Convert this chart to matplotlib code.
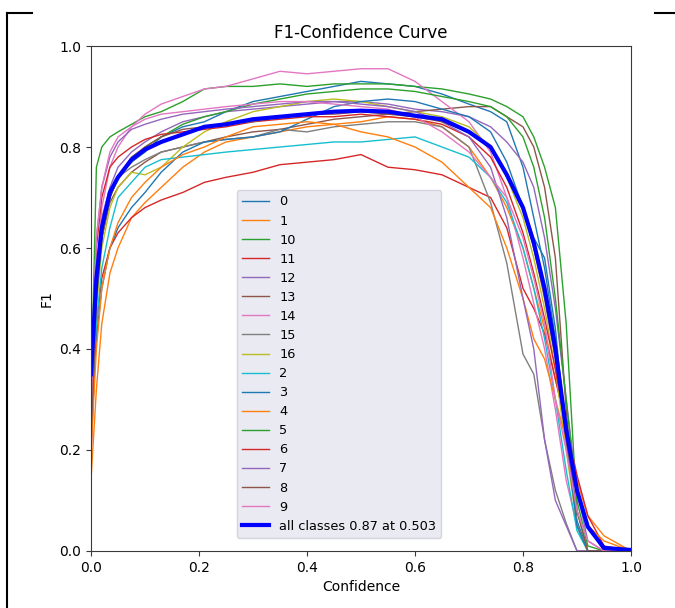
import matplotlib
matplotlib.use("Agg")
import matplotlib.pyplot as plt
from matplotlib.lines import Line2D

# confidence grid shared by all curves
conf = [0.0, 0.01, 0.02, 0.035, 0.05, 0.075, 0.1, 0.13, 0.17, 0.21, 0.25, 0.3, 0.35, 0.4, 0.45, 0.5,
        0.55, 0.6, 0.65, 0.7, 0.74, 0.77, 0.8, 0.82, 0.84, 0.86, 0.88, 0.9, 0.92, 0.95, 1.0]

names = ["0", "1", "10", "11", "12", "13", "14", "15", "16", "2", "3", "4", "5", "6", "7", "8", "9"]

f1_0 = [0.30, 0.52, 0.63, 0.70, 0.74, 0.77, 0.79, 0.82, 0.84, 0.85, 0.87, 0.89, 0.90, 0.91, 0.92, 0.93,
        0.925, 0.92, 0.905, 0.885, 0.87, 0.85, 0.76, 0.66, 0.56, 0.42, 0.25, 0.06, 0.0, 0.0, 0.0]
f1_1 = [0.14, 0.32, 0.45, 0.55, 0.60, 0.66, 0.69, 0.72, 0.76, 0.79, 0.81, 0.82, 0.83, 0.84, 0.845, 0.85,
        0.86, 0.855, 0.84, 0.80, 0.74, 0.68, 0.60, 0.52, 0.44, 0.34, 0.25, 0.14, 0.07, 0.03, 0.0]
f1_10 = [0.30, 0.76, 0.80, 0.82, 0.83, 0.845, 0.86, 0.87, 0.89, 0.915, 0.92, 0.92, 0.925, 0.92, 0.925, 0.925,
         0.925, 0.92, 0.915, 0.905, 0.895, 0.88, 0.86, 0.82, 0.76, 0.68, 0.45, 0.08, 0.0, 0.0, 0.0]
f1_11 = [0.19, 0.45, 0.54, 0.60, 0.63, 0.66, 0.68, 0.695, 0.71, 0.73, 0.74, 0.75, 0.765, 0.77, 0.775, 0.785,
         0.76, 0.755, 0.745, 0.72, 0.70, 0.64, 0.52, 0.48, 0.43, 0.34, 0.25, 0.15, 0.07, 0.01, 0.0]
f1_12 = [0.28, 0.55, 0.66, 0.72, 0.76, 0.79, 0.81, 0.83, 0.85, 0.86, 0.87, 0.875, 0.88, 0.885, 0.89, 0.89,
         0.885, 0.875, 0.87, 0.86, 0.84, 0.81, 0.77, 0.72, 0.62, 0.48, 0.30, 0.12, 0.02, 0.0, 0.0]
f1_13 = [0.25, 0.50, 0.62, 0.69, 0.72, 0.75, 0.77, 0.79, 0.80, 0.81, 0.82, 0.83, 0.835, 0.845, 0.855, 0.86,
         0.865, 0.87, 0.875, 0.88, 0.88, 0.86, 0.84, 0.80, 0.72, 0.58, 0.28, 0.05, 0.0, 0.0, 0.0]
f1_14 = [0.22, 0.55, 0.68, 0.76, 0.80, 0.84, 0.865, 0.885, 0.90, 0.915, 0.92, 0.935, 0.95, 0.945, 0.95, 0.955,
         0.955, 0.93, 0.89, 0.85, 0.79, 0.70, 0.58, 0.49, 0.40, 0.28, 0.14, 0.05, 0.0, 0.0, 0.0]
f1_15 = [0.26, 0.50, 0.62, 0.70, 0.74, 0.76, 0.775, 0.79, 0.80, 0.81, 0.815, 0.82, 0.835, 0.83, 0.84, 0.845,
         0.85, 0.85, 0.84, 0.80, 0.69, 0.57, 0.39, 0.35, 0.22, 0.12, 0.055, 0.0, 0.0, 0.0, 0.0]
f1_16 = [0.27, 0.48, 0.60, 0.68, 0.72, 0.75, 0.745, 0.76, 0.80, 0.83, 0.85, 0.87, 0.88, 0.89, 0.895, 0.89,
         0.88, 0.87, 0.86, 0.84, 0.80, 0.74, 0.66, 0.58, 0.48, 0.36, 0.20, 0.05, 0.0, 0.0, 0.0]
f1_2 = [0.26, 0.45, 0.56, 0.64, 0.70, 0.73, 0.76, 0.775, 0.78, 0.785, 0.79, 0.795, 0.80, 0.805, 0.81, 0.81,
        0.815, 0.82, 0.80, 0.78, 0.74, 0.69, 0.60, 0.52, 0.42, 0.30, 0.16, 0.04, 0.0, 0.0, 0.0]
f1_3 = [0.28, 0.42, 0.52, 0.60, 0.64, 0.68, 0.71, 0.75, 0.79, 0.81, 0.815, 0.82, 0.83, 0.855, 0.88, 0.89,
        0.895, 0.89, 0.875, 0.86, 0.83, 0.77, 0.68, 0.62, 0.58, 0.44, 0.22, 0.05, 0.0, 0.0, 0.0]
f1_4 = [0.20, 0.40, 0.52, 0.60, 0.65, 0.70, 0.73, 0.76, 0.785, 0.80, 0.82, 0.84, 0.845, 0.85, 0.845, 0.83,
        0.82, 0.80, 0.77, 0.72, 0.68, 0.60, 0.50, 0.42, 0.38, 0.30, 0.22, 0.12, 0.05, 0.02, 0.0]
f1_5 = [0.30, 0.50, 0.62, 0.70, 0.74, 0.77, 0.80, 0.82, 0.845, 0.86, 0.87, 0.885, 0.895, 0.905, 0.91, 0.915,
        0.915, 0.91, 0.90, 0.89, 0.88, 0.86, 0.82, 0.76, 0.66, 0.50, 0.30, 0.10, 0.01, 0.0, 0.0]
f1_6 = [0.25, 0.60, 0.70, 0.76, 0.78, 0.80, 0.815, 0.825, 0.83, 0.835, 0.84, 0.85, 0.855, 0.86, 0.86, 0.865,
        0.86, 0.855, 0.845, 0.82, 0.78, 0.72, 0.63, 0.55, 0.46, 0.36, 0.24, 0.12, 0.05, 0.0, 0.0]
f1_7 = [0.30, 0.62, 0.72, 0.78, 0.81, 0.835, 0.845, 0.855, 0.865, 0.87, 0.875, 0.88, 0.885, 0.89, 0.89, 0.885,
        0.88, 0.87, 0.85, 0.82, 0.76, 0.66, 0.50, 0.40, 0.22, 0.10, 0.05, 0.0, 0.0, 0.0, 0.0]
f1_8 = [0.22, 0.50, 0.62, 0.70, 0.74, 0.78, 0.80, 0.82, 0.835, 0.84, 0.845, 0.85, 0.86, 0.865, 0.865, 0.87,
        0.865, 0.86, 0.85, 0.83, 0.80, 0.75, 0.68, 0.60, 0.50, 0.38, 0.22, 0.08, 0.0, 0.0, 0.0]
f1_9 = [0.28, 0.62, 0.72, 0.79, 0.82, 0.84, 0.855, 0.865, 0.87, 0.875, 0.88, 0.885, 0.89, 0.89, 0.885, 0.88,
        0.875, 0.86, 0.83, 0.79, 0.74, 0.70, 0.62, 0.54, 0.45, 0.30, 0.20, 0.08, 0.02, 0.0, 0.0]

f1_all = [0.35, 0.54, 0.64, 0.71, 0.74, 0.775, 0.795, 0.81, 0.825, 0.84, 0.845, 0.855, 0.86, 0.865, 0.87, 0.872,
          0.87, 0.862, 0.855, 0.83, 0.80, 0.745, 0.68, 0.61, 0.52, 0.40, 0.24, 0.12, 0.048, 0.006, 0.002]

curves = [f1_0, f1_1, f1_10, f1_11, f1_12, f1_13, f1_14, f1_15, f1_16,
          f1_2, f1_3, f1_4, f1_5, f1_6, f1_7, f1_8, f1_9]

fig = plt.figure(figsize=(6.75, 6.08), dpi=100)
ax = fig.add_axes([0.1348, 0.0938, 0.8, 0.8305])

for name, y in zip(names, curves):
    ax.plot(conf, y, linewidth=1, label=name)
ax.plot(conf, f1_all, linewidth=3, color="blue", label="all classes 0.87 at 0.503")

ax.set_xlim(0, 1)
ax.set_ylim(0, 1)
ax.set_xlabel("Confidence")
ax.set_ylabel("F1")
ax.set_title("F1-Confidence Curve")
for sp in ax.spines.values():
    sp.set_color("#3a3a3a")
ax.tick_params(color="#3a3a3a")
leg = ax.legend(loc="lower left", bbox_to_anchor=(0.270, 0.026), borderaxespad=0, fontsize=9.3,
                labelspacing=0.47, handlelength=2.09, facecolor="#EAEAF2",
                edgecolor="#d4d4dc", framealpha=1.0)

# document frame around the screenshot
fig.add_artist(Line2D([0.011, 0.011], [0.0, 0.978], color="black", linewidth=1.5))
fig.add_artist(Line2D([0.011, 0.047], [0.978, 0.978], color="black", linewidth=1.5))
fig.add_artist(Line2D([0.970, 1.0], [0.978, 0.978], color="black", linewidth=1.5))

fig.savefig("out.png", dpi=100)
